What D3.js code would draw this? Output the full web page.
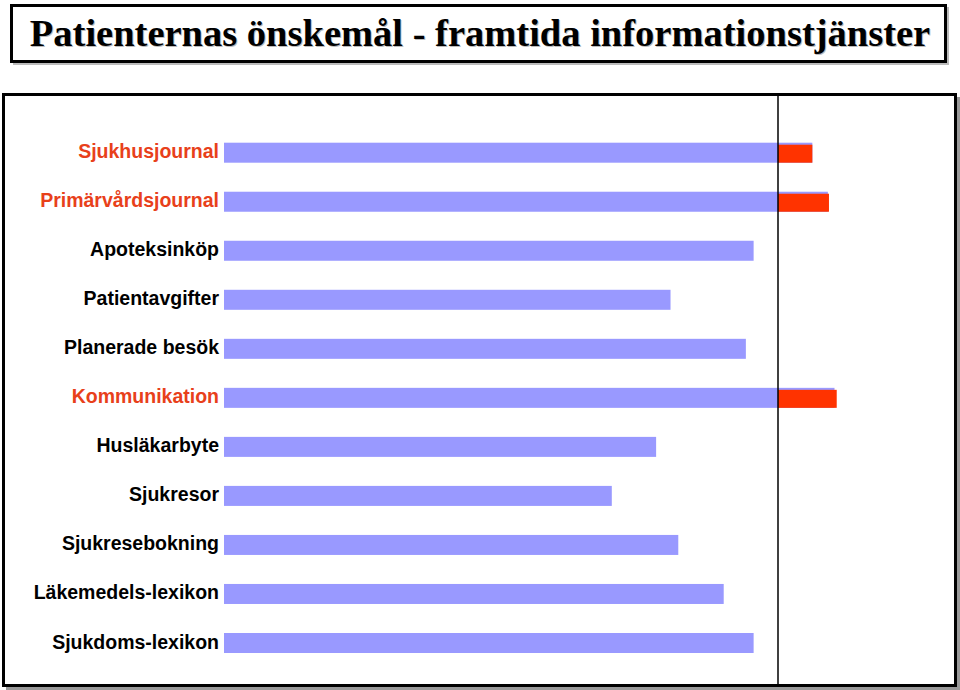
<!DOCTYPE html>
<html>
<head>
<meta charset="utf-8">
<script src="https://cdn.jsdelivr.net/npm/d3@7"></script>
<style>
  html, body { margin: 0; padding: 0; background: #fff; }
  svg { display: block; }
</style>
</head>
<body>
<svg id="chart" width="960" height="690"></svg>
<script>
const titleText = "Patienternas önskemål - framtida informationstjänster";
const categories = ["Sjukhusjournal", "Primärvårdsjournal", "Apoteksinköp", "Patientavgifter",
  "Planerade besök", "Kommunikation", "Husläkarbyte", "Sjukresor", "Sjukresebokning",
  "Läkemedels-lexikon", "Sjukdoms-lexikon"];
const values = [53.1, 54.5, 47.8, 40.3, 47.1, 55.1, 39.0, 35.0, 41.0, 45.1, 47.8];
const redValues = [53.1, 54.6, null, null, null, 55.3, null, null, null, null, null];
const threshold = 50;

const svg = d3.select("#chart");

// Title box
svg.append("rect").attr("x", 13).attr("y", 7).attr("width", 936).attr("height", 58).attr("fill", "#bbb");
svg.append("rect").attr("x", 11.5).attr("y", 5.5).attr("width", 934).attr("height", 56)
  .attr("fill", "#fff").attr("stroke", "#000").attr("stroke-width", 3);
svg.append("text").attr("x", 481).attr("y", 47).attr("text-anchor", "middle")
  .attr("fill", "#bbb")
  .style("font-family", "'Liberation Serif', 'Times New Roman', serif").style("font-weight", "bold").style("font-size", "38.5px")
  .text(titleText);
svg.append("text").attr("x", 480).attr("y", 46).attr("text-anchor", "middle")
  .attr("fill", "#000")
  .style("font-family", "'Liberation Serif', 'Times New Roman', serif").style("font-weight", "bold").style("font-size", "38.5px")
  .text(titleText);

// Chart frame with shadow
svg.append("rect").attr("x", 6).attr("y", 97).attr("width", 954).attr("height", 593).attr("fill", "#999");
svg.append("rect").attr("x", 3.5).attr("y", 94.5).attr("width", 952).attr("height", 591)
  .attr("fill", "#fff").attr("stroke", "#000").attr("stroke-width", 3);

const x = d3.scaleLinear().domain([0, threshold]).range([224, 778]);
const y = d3.scaleBand().domain(categories).range([142.7, 653]).paddingInner(0.592).paddingOuter(0);

const data = categories.map((c, i) => ({ c, v: values[i], r: redValues[i] }));

// blue bars
svg.append("g").selectAll("rect").data(data).join("rect")
  .attr("x", x(0)).attr("y", d => y(d.c))
  .attr("width", d => x(d.v) - x(0)).attr("height", y.bandwidth())
  .attr("fill", "#9999ff");

// red bars
svg.append("g").selectAll("rect").data(data.filter(d => d.r != null)).join("rect")
  .attr("x", x(threshold)).attr("y", d => y(d.c) + 2)
  .attr("width", d => x(d.r) - x(threshold)).attr("height", y.bandwidth() - 2)
  .attr("fill", "#ff3300");

// vertical reference line
svg.append("line").attr("x1", x(threshold)).attr("x2", x(threshold))
  .attr("y1", 96).attr("y2", 685).attr("stroke", "#000").attr("stroke-width", 1.5);

// labels
svg.append("g").selectAll("text").data(data).join("text")
  .attr("x", 219).attr("y", d => y(d.c) + y.bandwidth() / 2 - 1.5)
  .attr("dy", "0.36em").attr("text-anchor", "end")
  .attr("fill", d => d.r != null ? "#e8401a" : "#000")
  .style("font-family", "'Liberation Sans', Arial, Helvetica, sans-serif")
  .style("font-weight", "bold").style("font-size", "19.5px")
  .text(d => d.c);
</script>
</body>
</html>
